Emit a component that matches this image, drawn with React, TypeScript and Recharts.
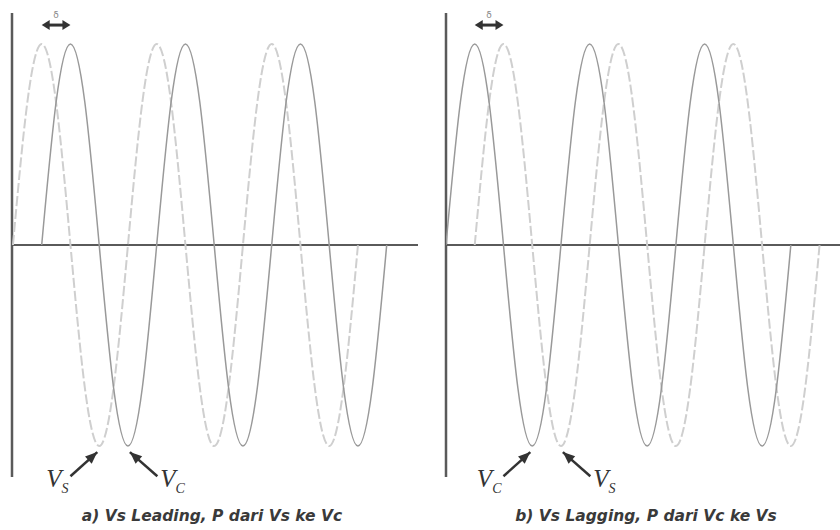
import React from "react";
import {
  LineChart,
  Line,
  XAxis,
  YAxis,
  ReferenceLine,
} from "recharts";

// One wave of three cycles, sampled every 45 degrees
const CYCLE_DEG = [
  0, 45, 90, 135, 180, 225, 270, 315, 360, 405, 450, 495, 540, 585, 630, 675,
  720, 765, 810, 855, 900, 945, 990, 1035, 1080,
];
const VS_VALUES = [
  0, 0.71, 1, 0.71, 0, -0.71, -1, -0.71, 0, 0.71, 1, 0.71, 0, -0.71, -1, -0.71,
  0, 0.71, 1, 0.71, 0, -0.71, -1, -0.71, 0,
];
const VC_VALUES = [
  0, 0.71, 1, 0.71, 0, -0.71, -1, -0.71, 0, 0.71, 1, 0.71, 0, -0.71, -1, -0.71,
  0, 0.71, 1, 0.71, 0, -0.71, -1, -0.71, 0,
];

// phase offsets (degrees) of each wave in the two cases
const PHASE_LEADING = { vs: 0, vc: 90 };
const PHASE_LAGGING = { vs: 90, vc: 0 };

const CAPTIONS = [
  "a) Vs Leading, P dari Vs ke Vc",
  "b) Vs Lagging, P dari Vc ke Vs",
];

const Y_DOMAIN: [number, number] = [-1.154, 1.154];
const AXIS_COLOR = "#5a5a5a";
const VC_COLOR = "#999";
const VS_COLOR = "#cfcfcf";
const ARROW_COLOR = "#333";

const toSeries = (values: number[], phase: number) =>
  CYCLE_DEG.map((deg, i) => ({ deg: deg + phase, v: values[i] }));

// filled triangle pointing from (x1,y1) to (x2,y2)
const head = (x1: number, y1: number, x2: number, y2: number, len = 12, half = 5) => {
  const dx = x2 - x1;
  const dy = y2 - y1;
  const d = Math.hypot(dx, dy) || 1;
  const ux = dx / d;
  const uy = dy / d;
  const bx = x2 - ux * len;
  const by = y2 - uy * len;
  return `${x2},${y2} ${bx - uy * half},${by + ux * half} ${bx + uy * half},${by - ux * half}`;
};

const pointer = (sub: string, side: "left" | "right") => (p: any) => {
  const { x1, y1, x2, y2 } = p;
  const tx = side === "left" ? x1 - 2 : x1 + 3;
  return (
    <g>
      <line x1={x1} y1={y1} x2={x2} y2={y2} stroke={ARROW_COLOR} strokeWidth={2.5} />
      <polygon points={head(x1, y1, x2, y2)} fill={ARROW_COLOR} />
      <text
        x={tx}
        y={y1 + 11}
        textAnchor={side === "left" ? "end" : "start"}
        fontFamily="'Liberation Serif', serif"
        fontStyle="italic"
        fill="#333"
      >
        <tspan fontSize={25}>V</tspan>
        <tspan fontSize={14} dy={6}>
          {sub}
        </tspan>
      </text>
    </g>
  );
};

const deltaMark = (p: any) => {
  const { x1, y1, x2, y2 } = p;
  return (
    <g>
      <line x1={x1 + 4} y1={y1} x2={x2 - 4} y2={y2} stroke={ARROW_COLOR} strokeWidth={3} />
      <polygon points={head(x2, y2, x1, y1, 8, 5)} fill={ARROW_COLOR} />
      <polygon points={head(x1, y1, x2, y2, 8, 5)} fill={ARROW_COLOR} />
      <text
        x={(x1 + x2) / 2}
        y={y1 - 7}
        textAnchor="middle"
        fontSize={9}
        fontFamily="'DejaVu Sans', sans-serif"
        fill="#888"
      >
        δ
      </text>
    </g>
  );
};

interface PanelProps {
  left: number;
  width: number;
  domain: [number, number];
  phase: { vs: number; vc: number };
  caption: string;
  leading: boolean;
}

const Panel: React.FC<PanelProps> = ({ left, width, domain, phase, caption, leading }) => {
  const vs = toSeries(VS_VALUES, phase.vs);
  const vc = toSeries(VC_VALUES, phase.vc);
  // pointers land on the troughs of the first cycle
  const first = leading ? "S" : "C";
  const second = leading ? "C" : "S";

  return (
    <div style={{ position: "absolute", left, top: 0, width, height: 530 }}>
      <LineChart
        width={width}
        height={530}
        margin={{ top: 13, right: left === 0 ? 12 : 0, bottom: 53, left: 12 }}
      >
        <XAxis dataKey="deg" type="number" domain={domain} allowDataOverflow hide />
        <YAxis type="number" domain={Y_DOMAIN} allowDataOverflow hide />
        <ReferenceLine y={0} stroke={AXIS_COLOR} strokeWidth={2} />
        <ReferenceLine
          x={domain[0]}
          stroke={AXIS_COLOR}
          strokeWidth={2.5}
          ifOverflow="visible"
        />
        <Line
          data={vs}
          dataKey="v"
          type="natural"
          stroke={VS_COLOR}
          strokeWidth={2}
          strokeDasharray="10 3"
          dot={false}
          isAnimationActive={false}
        />
        <Line
          data={vc}
          dataKey="v"
          type="natural"
          stroke={VC_COLOR}
          strokeWidth={1.5}
          dot={false}
          isAnimationActive={false}
        />
        <ReferenceLine
          segment={[
            { x: 90, y: 1.094 },
            { x: 180, y: 1.094 },
          ]}
          ifOverflow="visible"
          shape={deltaMark}
        />
        <ReferenceLine
          segment={[
            { x: 180, y: -1.15 },
            { x: 264, y: -1.03 },
          ]}
          ifOverflow="visible"
          shape={pointer(first, "left")}
        />
        <ReferenceLine
          segment={[
            { x: 452, y: -1.15 },
            { x: 366, y: -1.03 },
          ]}
          ifOverflow="visible"
          shape={pointer(second, "right")}
        />
      </LineChart>
      <div
        style={{
          position: "absolute",
          left: 0,
          width: 424,
          top: 507,
          textAlign: "center",
          fontFamily: "'DejaVu Sans', sans-serif",
          fontWeight: "bold",
          fontStyle: "italic",
          fontSize: 15.5,
          color: "#3a3a3a",
          whiteSpace: "nowrap",
        }}
      >
        {caption}
      </div>
    </div>
  );
};

export default function App() {
  return (
    <div
      style={{
        position: "absolute",
        left: 0,
        top: 0,
        width: 840,
        height: 530,
        background: "#fff",
        overflow: "hidden",
      }}
    >
      <Panel
        left={0}
        width={430}
        domain={[-3, 1268]}
        phase={PHASE_LEADING}
        caption={CAPTIONS[0]}
        leading
      />
      <Panel
        left={434}
        width={406}
        domain={[0, 1234]}
        phase={PHASE_LAGGING}
        caption={CAPTIONS[1]}
        leading={false}
      />
    </div>
  );
}
